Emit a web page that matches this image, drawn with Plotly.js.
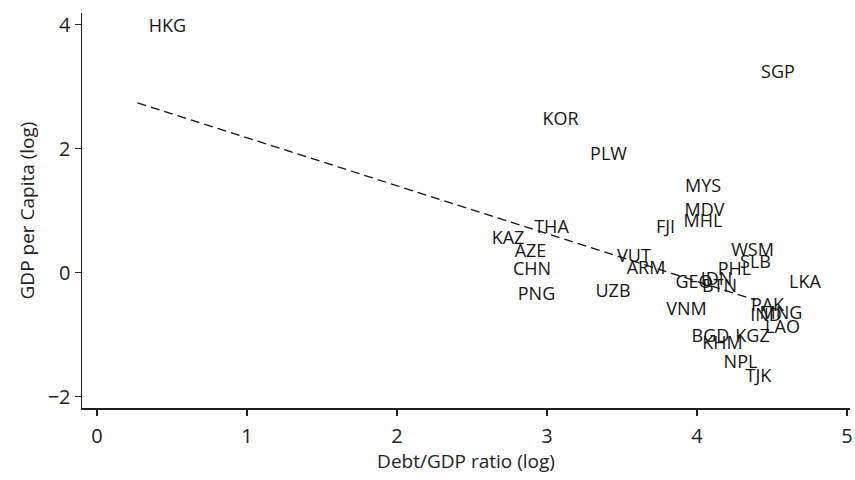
<!DOCTYPE html>
<html>
<head>
<meta charset="utf-8">
<script src="https://cdn.plot.ly/plotly-3.0.1.min.js"></script>
<style>html,body{margin:0;padding:0;background:#fff;}#chart{width:855px;height:480px;}</style>
</head>
<body>
<div id="chart"></div>
<script>
const countries = ["HKG","SGP","KOR","PLW","MYS","MDV","MHL","FJI","THA","KAZ","AZE","CHN","PNG","UZB","VUT","ARM","VNM","GEO","IDN","BTN","PHL","WSM","SLB","LKA","PAK","MNG","IND","LAO","BGD","KGZ","KHM","NPL","TJK"];
const debtLog = [0.47,4.54,3.09,3.41,4.04,4.05,4.04,3.79,3.03,2.74,2.89,2.90,2.93,3.44,3.58,3.66,3.93,3.98,4.13,4.15,4.25,4.37,4.39,4.72,4.47,4.56,4.46,4.57,4.09,4.37,4.17,4.29,4.41];
const gdpLog = [3.95,3.22,2.45,1.90,1.38,0.99,0.81,0.72,0.72,0.54,0.32,0.03,-0.36,-0.31,0.25,0.06,-0.60,-0.18,-0.13,-0.23,0.03,0.35,0.15,-0.17,-0.55,-0.68,-0.71,-0.89,-1.04,-1.04,-1.15,-1.46,-1.68];
const fitX = [0.27, 4.39];
const fitY = [2.74, -0.44];
const xTicks = [0,1,2,3,4,5];
const yTicks = [-2,0,2,4];

const FONT = "Open Sans, Noto Sans, sans-serif";
const traces = [
  {x: fitX, y: fitY, mode: "lines", line: {color: "#111", width: 1.3, dash: "9px,5px"}, hoverinfo: "skip", showlegend: false},
  {x: debtLog, y: gdpLog, text: countries, mode: "text", textposition: "middle center",
   textfont: {family: FONT, size: 18, color: "#151515"}, showlegend: false}
];
const axisCommon = {showgrid: false, zeroline: false, showline: true, linecolor: "#222", linewidth: 1.5,
  ticks: "outside", ticklen: 6, tickwidth: 1.2, tickcolor: "#222",
  tickfont: {family: FONT, size: 20, color: "#222"}};
const layout = {
  width: 855, height: 480,
  margin: {l: 82, r: 5, t: 13, b: 72},
  paper_bgcolor: "#fff", plot_bgcolor: "#fff",
  font: {family: FONT, color: "#222"},
  xaxis: Object.assign({}, axisCommon, {range: [-0.1, 5.02], tickvals: xTicks, ticktext: xTicks.map(String),
    ticklabelstandoff: 3,
    title: {text: "Debt/GDP ratio (log)", font: {family: FONT, size: 19, color: "#222"}, standoff: 2}}),
  yaxis: Object.assign({}, axisCommon, {range: [-2.18, 4.19], tickvals: yTicks, ticktext: yTicks.map(v => v < 0 ? "\u2212" + Math.abs(v) : String(v)),
    title: {text: "GDP per Capita (log)", font: {family: FONT, size: 19, color: "#222"}, standoff: 8}})
};
Plotly.newPlot("chart", traces, layout, {displayModeBar: false, staticPlot: true});
</script>
</body>
</html>
